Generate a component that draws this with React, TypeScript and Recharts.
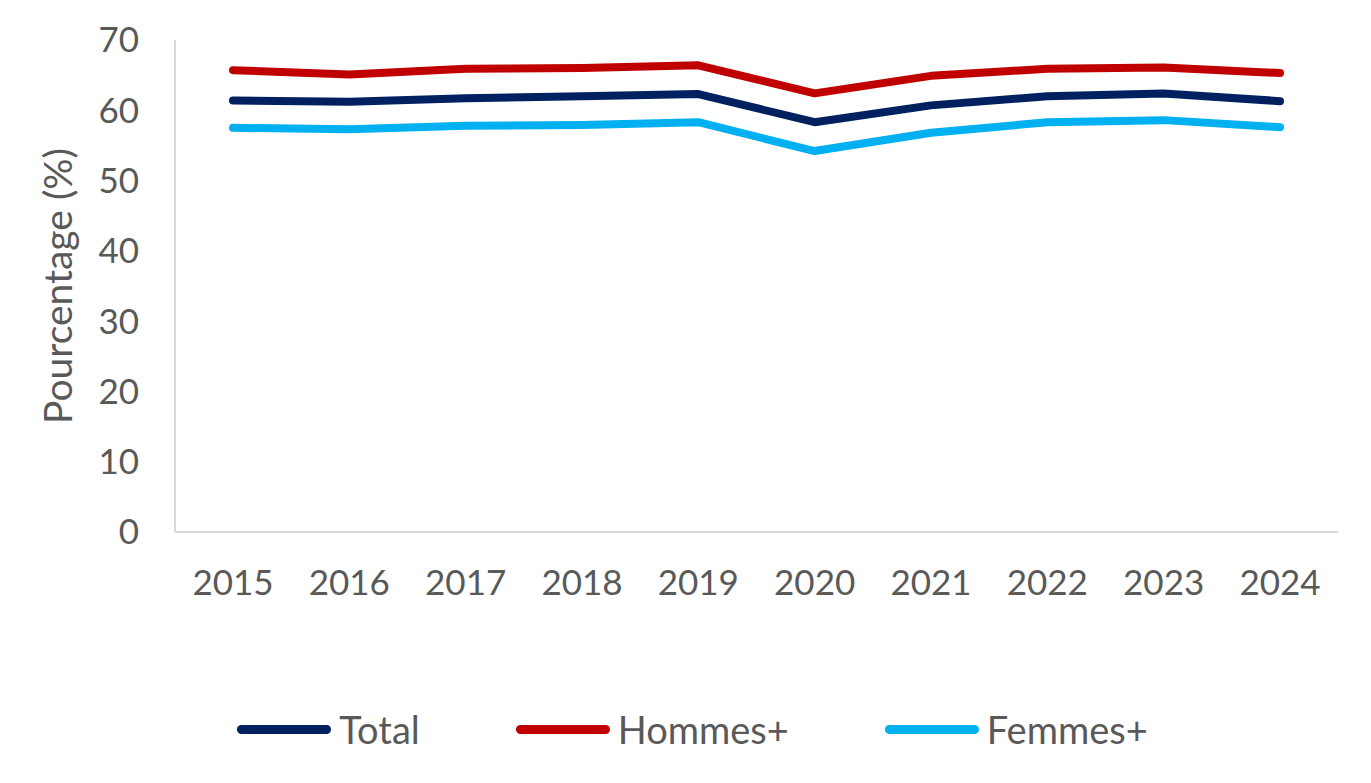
import React from "react";
import { LineChart, Line, XAxis, YAxis, Legend } from "recharts";

const years = ["2015", "2016", "2017", "2018", "2019", "2020", "2021", "2022", "2023", "2024"];
const total = [61.4, 61.2, 61.7, 62.0, 62.3, 58.3, 60.7, 62.0, 62.4, 61.3];
const hommes = [65.7, 65.1, 65.9, 66.0, 66.4, 62.4, 64.9, 65.9, 66.1, 65.3];
const femmes = [57.5, 57.3, 57.8, 57.9, 58.3, 54.2, 56.8, 58.3, 58.6, 57.6];
const yTicks = [0, 10, 20, 30, 40, 50, 60, 70];

const series = [
  { key: "total", name: "Total", color: "#002060" },
  { key: "hommes", name: "Hommes+", color: "#C00000" },
  { key: "femmes", name: "Femmes+", color: "#00B0F0" },
];

const data = years.map((y, i) => ({
  year: y,
  total: total[i],
  hommes: hommes[i],
  femmes: femmes[i],
}));

const FONT = "Lato, 'Open Sans', sans-serif";
const TEXT = "#595959";

const LegendContent = () => (
  <div
    style={{
      display: "flex",
      justifyContent: "center",
      alignItems: "center",
      gap: 96,
      fontFamily: FONT,
      fontSize: 38,
      color: TEXT,
      paddingLeft: 14,
    }}
  >
    {series.map((s) => (
      <div key={s.key} style={{ display: "flex", alignItems: "center" }}>
        <div
          style={{
            width: 94,
            height: 9,
            borderRadius: 5,
            background: s.color,
            marginRight: 8,
          }}
        />
        <span>{s.name}</span>
      </div>
    ))}
  </div>
);

export default function App() {
  return (
    <div style={{ margin: "-8px 0 0 -8px", width: 1371, height: 783, background: "#fff" }}>
      <LineChart
        width={1371}
        height={783}
        data={data}
        margin={{ top: 40, right: 33, left: 0, bottom: 221 }}
      >
        <XAxis
          dataKey="year"
          tickLine={false}
          axisLine={{ stroke: "#D9D9D9", strokeWidth: 2 }}
          tick={{ fill: TEXT, fontSize: 35, fontFamily: FONT }}
          tickMargin={32}
          height={30}
          interval={0}
          padding={{ left: 58, right: 58 }}
        />
        <YAxis
          domain={[0, 70]}
          ticks={yTicks}
          interval={0}
          width={175}
          tickLine={false}
          axisLine={{ stroke: "#D9D9D9", strokeWidth: 2 }}
          tick={{ fill: TEXT, fontSize: 35, fontFamily: FONT }}
          tickMargin={30}
          label={{
            value: "Pourcentage (%)",
            angle: -90,
            position: "insideLeft",
            offset: 58,
            style: { fill: TEXT, fontSize: 39, fontFamily: FONT, textAnchor: "middle" },
          }}
        />
        <Legend
          layout="horizontal"
          verticalAlign="middle"
          align="center"
          content={<LegendContent />}
          wrapperStyle={{ top: 706, left: 0, width: 1371 }}
        />
        {series.map((s) => (
          <Line
            key={s.key}
            type="linear"
            dataKey={s.key}
            name={s.name}
            stroke={s.color}
            strokeWidth={8}
            strokeLinecap="round"
            strokeLinejoin="round"
            dot={false}
            activeDot={false}
            isAnimationActive={false}
          />
        ))}
      </LineChart>
    </div>
  );
}
